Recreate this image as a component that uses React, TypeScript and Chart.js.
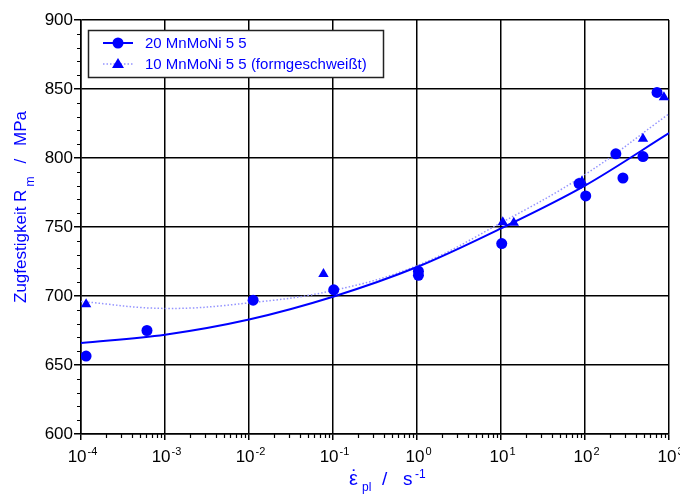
import React, { useEffect, useRef } from 'react';
import { Chart, registerables } from 'chart.js';

Chart.register(...registerables);

// ---- data ----
const decadeExponents = [-4, -3, -2, -1, 0, 1, 2, 3];
const yMin = 600;
const yMax = 900;

const circleLabel = '20 MnMoNi 5 5';
const circleRate = [1.15e-4, 6.1e-4, 0.0112, 0.102, 1.04, 1.04, 10.2, 85, 102, 233, 283, 490, 720];
const circleStrength = [656.5, 675, 697, 704.5, 718, 715, 738, 781.5, 772.5, 803, 785.5, 801, 847.5];

const triangleLabel = '10 MnMoNi 5 5 (formgeschweißt)';
const triangleRate = [1.15e-4, 0.077, 10.5, 14.2, 92, 490, 870];
const triangleStrength = [694, 716, 753.5, 753, 783, 814, 844];

const fitRate = [1e-4, 1e-3, 1e-2, 1e-1, 1, 10, 100, 1000];
const fitSolid = [666, 672, 683, 699.5, 721, 749, 780, 818];
const fitDotted = [696, 691, 695, 704, 722, 753, 788, 832];

const BLUE = '#0000ff';
const LIGHT = '#9494ff';
const FONT = '"Liberation Sans", Arial, sans-serif';

const toXY = (xs: number[], ys: number[]) => xs.map((x, i) => ({ x, y: ys[i] }));

const drawPlugin = {
  id: 'customDraw',
  afterDraw(chart: any) {
    const ctx = chart.ctx as CanvasRenderingContext2D;
    const xs = chart.scales.x;
    const ys = chart.scales.y;
    const area = chart.chartArea;

    // minor ticks
    ctx.save();
    ctx.strokeStyle = '#000';
    ctx.lineWidth = 1.2;
    ctx.beginPath();
    for (let e = -4; e < 3; e++) {
      for (let m = 2; m <= 9; m++) {
        const px = Math.round(xs.getPixelForValue(m * Math.pow(10, e))) + 0.5;
        ctx.moveTo(px, area.bottom);
        ctx.lineTo(px, area.bottom + 4);
      }
    }
    for (let v = yMin + 10; v < yMax; v += 10) {
      if (v % 50 === 0) continue;
      const py = Math.round(ys.getPixelForValue(v)) + 0.5;
      ctx.moveTo(area.left - 4, py);
      ctx.lineTo(area.left, py);
    }
    ctx.stroke();
    ctx.restore();

    // x tick labels 10^n
    ctx.save();
    ctx.fillStyle = '#000';
    ctx.textBaseline = 'alphabetic';
    ctx.textAlign = 'left';
    decadeExponents.forEach((e) => {
      const px = xs.getPixelForValue(Math.pow(10, e));
      ctx.font = `17px ${FONT}`;
      const wb = ctx.measureText('10').width;
      ctx.font = `11px ${FONT}`;
      const sup = String(e);
      const ws = ctx.measureText(sup).width;
      const start = px - (wb + ws) / 2 + 1;
      ctx.font = `17px ${FONT}`;
      ctx.fillText('10', start, 462);
      ctx.font = `11px ${FONT}`;
      ctx.fillText(sup, start + wb + 1, 455);
    });
    ctx.restore();

    // x title
    ctx.save();
    ctx.fillStyle = BLUE;
    ctx.textBaseline = 'alphabetic';
    ctx.textAlign = 'left';
    ctx.font = `20px ${FONT}`;
    ctx.fillText('\u03B5', 349, 485);
    const we = ctx.measureText('\u03B5').width;
    ctx.textAlign = 'center';
    ctx.fillText('\u02D9', 349 + we / 2 + 1, 484);
    ctx.textAlign = 'left';
    ctx.font = `12px ${FONT}`;
    ctx.fillText('pl', 362, 491);
    ctx.font = `19px ${FONT}`;
    ctx.fillText('/', 382, 485);
    ctx.fillText('s', 403, 485);
    ctx.font = `12px ${FONT}`;
    ctx.fillText('-1', 415, 478);
    ctx.restore();

    // y title
    ctx.save();
    ctx.fillStyle = BLUE;
    ctx.textBaseline = 'alphabetic';
    ctx.textAlign = 'left';
    ctx.translate(26, 303);
    ctx.rotate(-Math.PI / 2);
    ctx.font = `17px ${FONT}`;
    const main = 'Zugfestigkeit R';
    ctx.fillText(main, 0, 0);
    let x = ctx.measureText(main).width + 3;
    ctx.font = `12px ${FONT}`;
    ctx.fillText('m', x, 8);
    x += ctx.measureText('m').width + 13;
    ctx.font = `17px ${FONT}`;
    ctx.fillText('/', x, 0);
    x += ctx.measureText('/').width + 13;
    ctx.fillText('MPa', x, 0);
    ctx.restore();

    // legend
    ctx.save();
    ctx.fillStyle = '#fff';
    ctx.fillRect(88.5, 30.5, 295, 47);
    ctx.strokeStyle = '#222';
    ctx.lineWidth = 1.5;
    ctx.strokeRect(88.5, 30.5, 295, 47);
    // row 1
    ctx.strokeStyle = BLUE;
    ctx.lineWidth = 2;
    ctx.beginPath();
    ctx.moveTo(103, 43);
    ctx.lineTo(133, 43);
    ctx.stroke();
    ctx.fillStyle = BLUE;
    ctx.beginPath();
    ctx.arc(118, 43, 5.5, 0, Math.PI * 2);
    ctx.fill();
    // row 2
    ctx.strokeStyle = LIGHT;
    ctx.lineWidth = 1.5;
    ctx.setLineDash([1.5, 2]);
    ctx.beginPath();
    ctx.moveTo(103, 64);
    ctx.lineTo(133, 64);
    ctx.stroke();
    ctx.setLineDash([]);
    ctx.beginPath();
    ctx.moveTo(118, 58);
    ctx.lineTo(124, 68);
    ctx.lineTo(112, 68);
    ctx.closePath();
    ctx.fill();
    ctx.font = `15px ${FONT}`;
    ctx.textBaseline = 'middle';
    ctx.fillText(circleLabel, 145, 44);
    ctx.fillText(triangleLabel, 145, 65);
    ctx.restore();
  },
};

export default function App() {
  const ref = useRef<HTMLCanvasElement | null>(null);

  useEffect(() => {
    document.body.style.margin = '0';
    if (!ref.current) return;
    const chart = new Chart(ref.current, {
      type: 'scatter',
      data: {
        datasets: [
          {
            label: circleLabel,
            data: toXY(circleRate, circleStrength),
            showLine: false,
            pointStyle: 'circle',
            pointRadius: 5.5,
            pointBackgroundColor: BLUE,
            pointBorderColor: BLUE,
            borderWidth: 0,
          },
          {
            label: triangleLabel,
            data: toXY(triangleRate, triangleStrength),
            showLine: false,
            pointStyle: 'triangle',
            pointRadius: 6,
            pointBackgroundColor: BLUE,
            pointBorderColor: BLUE,
            borderWidth: 0,
          },
          {
            label: 'fit solid',
            data: toXY(fitRate, fitSolid),
            showLine: true,
            pointRadius: 0,
            borderColor: BLUE,
            borderWidth: 2,
            tension: 0.4,
            cubicInterpolationMode: 'monotone',
          },
          {
            label: 'fit dotted',
            data: toXY(fitRate, fitDotted),
            showLine: true,
            pointRadius: 0,
            borderColor: LIGHT,
            borderWidth: 1.5,
            borderDash: [1.5, 2],
            tension: 0.4,
          },
        ],
      },
      options: {
        responsive: false,
        animation: false,
        devicePixelRatio: 1,
        layout: { padding: { top: 20, right: 11, left: 0, bottom: 0 } },
        plugins: {
          legend: { display: false },
          tooltip: { enabled: false },
        },
        scales: {
          x: {
            type: 'logarithmic',
            min: 1e-4,
            max: 1e3,
            position: 'bottom',
            afterBuildTicks: (s: any) => {
              s.ticks = decadeExponents.map((e) => ({ value: Math.pow(10, e) }));
            },
            afterFit: (s: any) => {
              s.height = 67;
            },
            ticks: { display: false },
            grid: { color: '#000', lineWidth: 1.5, tickLength: 6, tickColor: '#000' },
            border: { color: '#000', width: 1.5 },
          },
          y: {
            type: 'linear',
            min: yMin,
            max: yMax,
            afterFit: (s: any) => {
              s.width = 81;
            },
            ticks: {
              stepSize: 50,
              color: '#000',
              font: { family: FONT, size: 17 },
              padding: 1,
            },
            grid: { color: '#000', lineWidth: 1.5, tickLength: 7, tickColor: '#000' },
            border: { color: '#000', width: 1.5 },
          },
        },
      },
      plugins: [drawPlugin],
    } as any);
    return () => chart.destroy();
  }, []);

  return <canvas ref={ref} width={680} height={501} style={{ display: 'block' }} />;
}
